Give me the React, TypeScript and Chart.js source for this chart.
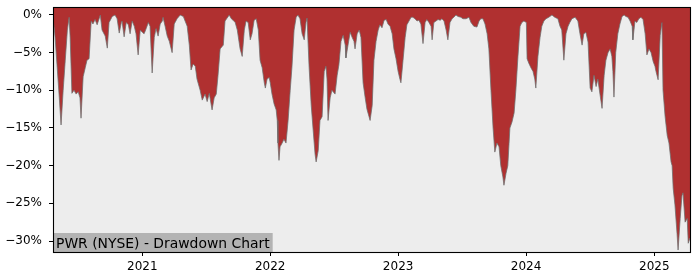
import React, { useEffect, useRef } from "react";
import { Chart, registerables } from "chart.js";

Chart.register(...registerables);

const TITLE = "PWR (NYSE) - Drawdown Chart";
const Y_TICKS = [0, -5, -10, -15, -20, -25, -30];
const X_TICK_YEARS = [2021, 2022, 2023, 2024, 2025];
const X_MIN_DATE = "2020-04-21";
const X_MAX_DATE = "2025-04-13";
const Y_MIN = -31.46;
const Y_MAX = 1.06;

const dates2020 = [
  "2020-04-21", "2020-04-24", "2020-04-27", "2020-05-03", "2020-05-09", "2020-05-14", "2020-05-20", "2020-05-26",
  "2020-06-01", "2020-06-06", "2020-06-09", "2020-06-14", "2020-06-20", "2020-06-26", "2020-07-02", "2020-07-07",
  "2020-07-10", "2020-07-16", "2020-07-22", "2020-07-27", "2020-08-02", "2020-08-08", "2020-08-13", "2020-08-19",
  "2020-08-25", "2020-09-03", "2020-09-08", "2020-09-17", "2020-09-23", "2020-09-28", "2020-10-07", "2020-10-15",
  "2020-10-21", "2020-10-27", "2020-11-02", "2020-11-04", "2020-11-10", "2020-11-16", "2020-11-22", "2020-11-27",
  "2020-12-03", "2020-12-09", "2020-12-14", "2020-12-20", "2020-12-26",
];
const dd2020 = [
  -0.5, -1.6, -3, -7, -11, -14.6, -10, -6,
  -2, -0.3, -3, -10.4, -10, -10.5, -10.2, -11,
  -13.7, -8.2, -7, -6, -5.8, -0.8, -1.2, -0.6,
  -1.3, 0, -2, -2.8, -4.4, -1, -0.2, 0,
  -0.5, -2.4, -1, -0.8, -2.9, -1, -1.3, -2.5,
  -0.8, -1.5, -2.5, -5.3, -2,
];

const dates2021 = [
  "2021-01-01", "2021-01-06", "2021-01-12", "2021-01-18", "2021-01-23", "2021-01-29",
  "2021-02-04", "2021-02-09", "2021-02-15", "2021-02-21", "2021-02-27",
  "2021-03-01", "2021-03-07", "2021-03-13", "2021-03-19", "2021-03-27",
  "2021-04-02", "2021-04-10", "2021-04-19", "2021-04-28",
  "2021-05-03", "2021-05-09", "2021-05-15", "2021-05-20", "2021-05-26",
  "2021-06-01", "2021-06-06", "2021-06-15", "2021-06-21", "2021-06-29",
  "2021-07-05", "2021-07-11", "2021-07-19", "2021-07-25", "2021-07-31",
  "2021-08-05", "2021-08-11", "2021-08-20", "2021-08-25", "2021-08-31",
  "2021-09-06", "2021-09-12", "2021-09-17", "2021-09-23", "2021-09-29",
  "2021-10-07", "2021-10-13", "2021-10-19", "2021-10-24", "2021-10-30",
  "2021-11-05", "2021-11-10", "2021-11-16", "2021-11-22", "2021-11-28",
  "2021-12-03", "2021-12-09", "2021-12-15", "2021-12-18", "2021-12-23", "2021-12-29",
];
const dd2021 = [
  -2.3, -2.5, -1.8, -1, -1.5, -7.7,
  -3, -1.8, -2.8, -1.2, -0.8,
  -0.3, -1.5, -2.8, -3.5, -5,
  -1.2, -0.5, 0, -0.2,
  -0.8, -1.5, -4, -7.3, -6.5,
  -6.8, -8.5, -10, -11.3, -10.5,
  -11.5, -10.4, -12.6, -11, -10.5,
  -8, -4.5, -4, -0.8, -0.4,
  0, -0.5, -0.7, -1, -2,
  -4.5, -5.5, -2, -0.8, -1,
  -3.3, -2.5, -0.7, -0.5, -2,
  -6, -7, -9, -9.7, -8.5, -8.3,
];

const dates2022 = [
  "2022-01-01", "2022-01-06", "2022-01-12", "2022-01-18", "2022-01-21", "2022-01-23", "2022-01-26", "2022-01-29",
  "2022-02-04", "2022-02-09", "2022-02-15", "2022-02-21", "2022-02-27",
  "2022-03-04", "2022-03-10", "2022-03-16", "2022-03-21", "2022-03-27",
  "2022-04-02", "2022-04-08", "2022-04-13", "2022-04-16", "2022-04-22", "2022-04-28",
  "2022-05-03", "2022-05-09", "2022-05-12", "2022-05-18", "2022-05-23", "2022-05-29",
  "2022-06-04", "2022-06-09", "2022-06-12", "2022-06-15", "2022-06-21", "2022-06-26",
  "2022-07-05", "2022-07-11", "2022-07-16", "2022-07-22", "2022-07-28",
  "2022-08-03", "2022-08-05", "2022-08-11", "2022-08-17", "2022-08-23", "2022-08-28", "2022-08-31",
  "2022-09-06", "2022-09-12", "2022-09-17", "2022-09-23", "2022-09-29",
  "2022-10-04", "2022-10-10", "2022-10-13", "2022-10-19", "2022-10-24", "2022-10-30",
  "2022-11-05", "2022-11-10", "2022-11-16", "2022-11-22", "2022-11-28",
  "2022-12-03", "2022-12-09", "2022-12-15", "2022-12-20", "2022-12-26",
];
const dd2022 = [
  -9, -10.5, -11.8, -12.6, -14, -17, -19.3, -17.5,
  -17, -16.5, -17, -14, -10,
  -6.9, -2, -0.3, 0, -0.5,
  -2.5, -3.3, -1, -0.4, -7, -12,
  -15, -18.5, -19.5, -18, -14, -13.5,
  -7.5, -6.8, -8.5, -14, -11, -10,
  -10.5, -8, -6.6, -3.5, -2.7,
  -4, -5.7, -4, -2.3, -3, -3.5, -4.5,
  -2.5, -2, -3, -9, -11,
  -12.5, -13.5, -14, -12, -6, -3.5,
  -2, -1.3, -1.7, -0.7, -0.6,
  -1.2, -1.5, -2.5, -4.5, -5.8,
];

const dates2023 = [
  "2023-01-01", "2023-01-06", "2023-01-09", "2023-01-15", "2023-01-21", "2023-01-26",
  "2023-02-01", "2023-02-07", "2023-02-12", "2023-02-18", "2023-02-24",
  "2023-03-01", "2023-03-07", "2023-03-13", "2023-03-19", "2023-03-24", "2023-03-30",
  "2023-04-05", "2023-04-08", "2023-04-13", "2023-04-19", "2023-04-25",
  "2023-05-01", "2023-05-06", "2023-05-12", "2023-05-18", "2023-05-23", "2023-05-29",
  "2023-06-04", "2023-06-09", "2023-06-15", "2023-06-21", "2023-06-29",
  "2023-07-05", "2023-07-14", "2023-07-22", "2023-07-28",
  "2023-08-05", "2023-08-14", "2023-08-20", "2023-08-25", "2023-08-31",
  "2023-09-06", "2023-09-12", "2023-09-17", "2023-09-23", "2023-09-29",
  "2023-10-04", "2023-10-10", "2023-10-16", "2023-10-21", "2023-10-27", "2023-10-30",
  "2023-11-05", "2023-11-10", "2023-11-16", "2023-11-22", "2023-11-28",
  "2023-12-03", "2023-12-09", "2023-12-15", "2023-12-20", "2023-12-26",
];
const dd2023 = [
  -7.5, -8.5, -9, -6, -3, -1.3,
  -0.8, -0.3, -0.3, -0.5, -0.8,
  -0.7, -1.2, -3.8, -1, -0.6, -1,
  -1.5, -3.3, -1, -0.8, -0.6,
  -0.7, -0.5, -0.8, -2, -3.3, -1,
  -0.5, -0.3, 0, -0.2, -0.3,
  -0.5, -0.5, -0.3, -1,
  -1.5, -1.6, -0.8, -0.5, -0.5,
  -1.2, -2.5, -4.5, -10, -15,
  -18.2, -17, -17.5, -20, -21.5, -22.6,
  -21, -20, -15, -14.2, -13,
  -10, -5.5, -1.5, -1, -0.8,
];

const dates2024 = [
  "2024-01-02", "2024-01-04", "2024-01-09", "2024-01-15", "2024-01-21", "2024-01-26", "2024-01-29",
  "2024-02-04", "2024-02-10", "2024-02-15", "2024-02-21", "2024-02-27",
  "2024-03-06", "2024-03-15", "2024-03-23",
  "2024-04-01", "2024-04-07", "2024-04-12", "2024-04-18", "2024-04-24", "2024-04-30",
  "2024-05-05", "2024-05-11", "2024-05-20", "2024-05-28",
  "2024-06-03", "2024-06-09", "2024-06-14", "2024-06-20", "2024-06-26",
  "2024-07-02", "2024-07-07", "2024-07-13", "2024-07-19", "2024-07-24", "2024-07-30",
  "2024-08-05", "2024-08-11", "2024-08-16", "2024-08-22", "2024-08-28",
  "2024-09-02", "2024-09-05", "2024-09-08", "2024-09-13", "2024-09-19", "2024-09-25",
  "2024-10-01", "2024-10-07", "2024-10-12", "2024-10-18", "2024-10-24", "2024-10-30",
  "2024-11-01", "2024-11-07", "2024-11-12", "2024-11-18", "2024-11-24", "2024-11-30",
  "2024-12-06", "2024-12-11", "2024-12-17", "2024-12-23", "2024-12-29",
];
const dd2024 = [
  -1, -5.8, -6.4, -7, -7.5, -8.5, -9.7,
  -5.5, -3, -1.5, -0.8, -0.5,
  -0.3, 0, -0.3,
  -0.5, -1.5, -2, -6, -2.5, -1.5,
  -1, -0.5, -0.3, -0.8,
  -2.5, -4, -2.5, -2.3, -3.6,
  -9.7, -10.2, -8, -9.5, -8.5, -10.5,
  -12.4, -8, -6, -5, -4.5,
  -5.5, -7.5, -10.9, -5, -2.5, -1.2,
  -0.2, 0, -0.2, -0.3, -0.8, -1.5,
  -3.3, -0.8, -1, -0.5, -0.3, -0.6,
  -2.5, -5.3, -4.5, -5, -6.2,
];

const dates2025 = [
  "2025-01-03", "2025-01-06", "2025-01-12", "2025-01-18", "2025-01-23", "2025-01-26",
  "2025-02-01", "2025-02-07", "2025-02-12", "2025-02-18", "2025-02-21", "2025-02-24",
  "2025-03-01", "2025-03-07", "2025-03-10", "2025-03-16", "2025-03-21", "2025-03-24", "2025-03-30",
  "2025-04-05", "2025-04-08", "2025-04-13",
];
const dd2025 = [
  -6.8, -7.5, -8.6, -2.7, -1, -10,
  -13.5, -16, -17, -19.5, -20, -23,
  -25.2, -29, -31.2, -27, -24, -23.6, -27.5,
  -27, -30.3, -29.6,
];

const FILL_COLOR = "#b03030";
const EDGE_COLOR = "rgba(110,110,110,0.75)";
const PLOT_BG = "#ededed";
const LABEL_BG = "#b3b3b3";
const FONT = '"DejaVu Sans", sans-serif';

export default function App() {
  const ref = useRef<HTMLCanvasElement>(null);

  useEffect(() => {
    const dates = [...dates2020, ...dates2021, ...dates2022, ...dates2023, ...dates2024, ...dates2025];
    const vals = [...dd2020, ...dd2021, ...dd2022, ...dd2023, ...dd2024, ...dd2025];
    const points = dates.map((d, i) => ({ x: Date.parse(d), y: vals[i] }));

    const decor = {
      id: "decor",
      beforeDatasetsDraw(chart: any) {
        const { ctx, chartArea: a } = chart;
        ctx.save();
        ctx.fillStyle = PLOT_BG;
        ctx.fillRect(a.left, a.top, a.right - a.left, a.bottom - a.top);
        ctx.restore();
      },
      afterDatasetsDraw(chart: any) {
        const { ctx, chartArea: a } = chart;
        ctx.save();
        ctx.font = `13.9px ${FONT}`;
        const tw = ctx.measureText(TITLE).width;
        ctx.fillStyle = LABEL_BG;
        ctx.fillRect(a.left, a.bottom - 19, tw + 6, 19);
        ctx.fillStyle = "#000";
        ctx.textBaseline = "alphabetic";
        ctx.textAlign = "left";
        ctx.fillText(TITLE, a.left + 3, a.bottom - 4.5);
        ctx.strokeStyle = "#000";
        ctx.lineWidth = 1.1;
        ctx.strokeRect(a.left + 0.5, a.top + 0.5, a.right - a.left, a.bottom - a.top);
        ctx.restore();
      },
    };

    const chart = new Chart(ref.current as HTMLCanvasElement, {
      type: "line",
      data: {
        datasets: [
          {
            data: points,
            fill: "end",
            backgroundColor: FILL_COLOR,
            borderColor: EDGE_COLOR,
            borderWidth: 1,
            pointRadius: 0,
            tension: 0,
          },
        ],
      },
      options: {
        animation: false,
        responsive: false,
        devicePixelRatio: 1,
        parsing: false,
        normalized: true,
        layout: { padding: { top: 7, right: 10, left: 0, bottom: 0 } },
        plugins: { legend: { display: false }, tooltip: { enabled: false } },
        scales: {
          x: {
            type: "linear",
            min: Date.parse(X_MIN_DATE),
            max: Date.parse(X_MAX_DATE),
            border: { display: false },
            grid: { drawOnChartArea: false, drawTicks: true, tickLength: 4, color: "#000", tickColor: "#000" },
            ticks: {
              autoSkip: false,
              maxRotation: 0,
              padding: 4,
              color: "#000",
              font: { family: FONT, size: 12 },
              callback: (v: any) => String(new Date(Number(v)).getUTCFullYear()),
            },
            afterBuildTicks: (scale: any) => {
              scale.ticks = X_TICK_YEARS.map((y) => ({ value: Date.UTC(y, 0, 1) }));
            },
            afterFit: (scale: any) => {
              scale.height = 28;
            },
          },
          y: {
            type: "linear",
            min: Y_MIN,
            max: Y_MAX,
            border: { display: false },
            grid: { drawOnChartArea: false, drawTicks: true, tickLength: 4, color: "#000", tickColor: "#000" },
            ticks: {
              autoSkip: false,
              padding: 7,
              color: "#000",
              font: { family: FONT, size: 12 },
              callback: (v: any) => (Number(v) < 0 ? "\u2212" : "") + Math.abs(Number(v)) + "%",
            },
            afterBuildTicks: (scale: any) => {
              scale.ticks = Y_TICKS.map((v) => ({ value: v }));
            },
            afterFit: (scale: any) => {
              scale.width = 53;
              scale.paddingTop = 0;
              scale.paddingBottom = 0;
            },
          },
        },
      },
      plugins: [decor],
    });

    return () => chart.destroy();
  }, []);

  return (
    <div style={{ position: "absolute", left: 0, top: 0, width: 700, height: 280, background: "#fff" }}>
      <canvas ref={ref} width={700} height={280} style={{ display: "block" }} />
    </div>
  );
}
